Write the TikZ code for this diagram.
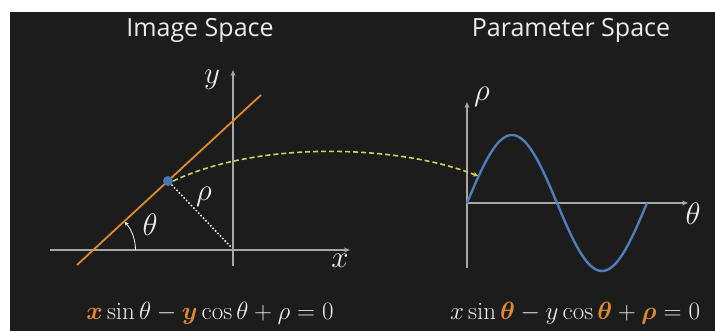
\documentclass[tikz,border=0pt]{standalone}
\usepackage{fix-cm}
\usepackage{fontspec}
\usepackage{bm}
\setsansfont{Open Sans}
\usetikzlibrary{arrows.meta}
\definecolor{bg}{HTML}{1C1C1C}
\definecolor{axisgray}{HTML}{A8A8A8}
\definecolor{txt}{HTML}{ECECEC}
\definecolor{lorange}{HTML}{E08A2C}
\definecolor{dotblue}{HTML}{4A78B5}
\definecolor{sineblue}{HTML}{4F7DB8}
\definecolor{dashgreen}{HTML}{D0D45C}
\tikzset{
  axis/.style={draw=axisgray, line width=1.3pt, -{Stealth[length=6pt,width=5pt]}},
  title/.style={text=txt, font=\sffamily\fontsize{25}{30}\selectfont},
  lbl/.style={text=txt, font=\fontsize{31}{36}\selectfont},
  eqn/.style={text=txt, font=\fontsize{25}{30}\selectfont},
}
\begin{document}
\begin{tikzpicture}[x=1pt,y=-1pt]
\useasboundingbox (0,0) rectangle (715,331);
\fill[white] (0,0) rectangle (715,331);
\fill[bg] (10,12) rectangle (715,331);
% titles
\node[title] (t1) at (200,30) {Image Space};
\node[title] (t2) at (571,30) {Parameter Space};
% left axes
\coordinate (xa0) at (50,250); \coordinate (xa1) at (350,250);
\coordinate (ya0) at (233,266); \coordinate (ya1) at (233,70);
\draw[axis] (xa0) -- (xa1);
\draw[axis] (ya0) -- (ya1);
\node[lbl] (xl) at (340,261) {$x$};
\node[lbl] (yl) at (212,80) {$y$};
% line
\coordinate (l0) at (77,265); \coordinate (l1) at (261,95);
\draw[lorange, line width=1.8pt] (l0) -- (l1);
% perpendicular dotted
\coordinate (O) at (231,247);
\node[circle, fill=dotblue, inner sep=0pt, minimum size=10pt] (P) at (168,181) {};
\draw[white, line width=1.5pt, dotted] (P) -- (O);
\node[lbl] (rho1) at (204,197) {$\rho$};
% theta arc
\coordinate (C) at (93.5,250);
\draw[white, line width=0.8pt, -{Stealth[length=4pt,width=4pt]}] ([shift={(0:42)}]C) arc[start angle=0, end angle=-42, radius=42];
\node[lbl] (th1) at (150,225) {$\theta$};
% right axes
\coordinate (ra0) at (467,268); \coordinate (ra1) at (467,102);
\coordinate (ta0) at (467,203); \coordinate (ta1) at (688,203);
\draw[axis] (ra0) -- (ra1);
\draw[axis] (ta0) -- (ta1);
\node[lbl] (rhol) at (482,97) {$\rho$};
\node[lbl] (thl) at (693,214) {$\theta$};
% sine
\draw[sineblue, line width=2.4pt] plot[domain=0:360, samples=90, smooth] ({467+\x/2}, {203-68*sin(\x)});
\coordinate (Q) at (478,176);
% dashed mapping
\draw[dashgreen, line width=1.6pt, dash pattern=on 5pt off 3pt, -{Stealth[length=5pt,width=5pt]}] (P.east) .. controls (260,140) and (400,145) .. (Q);
% equations
\node[eqn] (eq1) at (210,313) {$\color{lorange}\bm{x}\color{txt}\sin\theta-\color{lorange}\bm{y}\color{txt}\cos\theta+\rho=0$};
\node[eqn] (eq2) at (575,313) {$x\sin\color{lorange}\bm{\theta}\color{txt}-y\cos\color{lorange}\bm{\theta}\color{txt}+\color{lorange}\bm{\rho}\color{txt}=0$};
\end{tikzpicture}
\end{document}
